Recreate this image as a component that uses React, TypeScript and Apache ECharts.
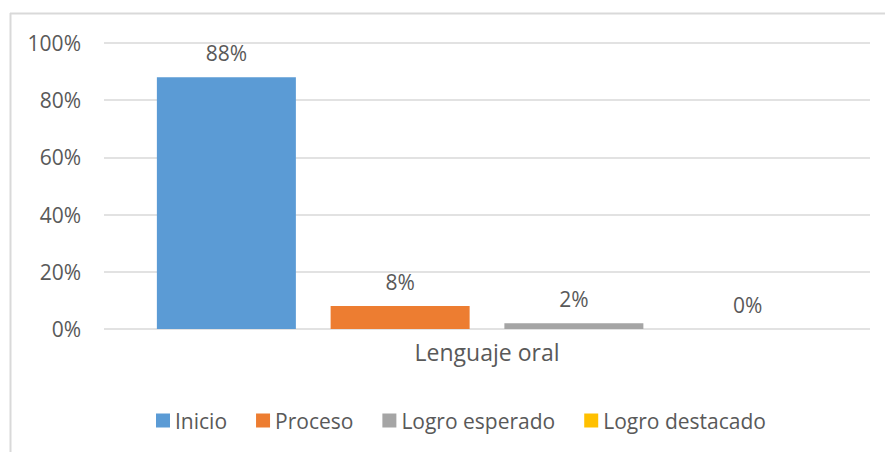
import React, { useEffect, useRef } from "react";
import * as echarts from "echarts";

const categories = ["Lenguaje oral"];
const seriesNames = ["Inicio", "Proceso", "Logro esperado", "Logro destacado"];
const seriesValues = [0.88, 0.08, 0.02, 0];
const seriesColors = ["#5B9BD5", "#ED7D31", "#A5A5A5", "#FFC000"];
const yTicks = { min: 0, max: 1, interval: 0.2 };

const FONT = "Open Sans";
const TEXT = "#595959";

export default function App() {
  const ref = useRef<HTMLDivElement>(null);
  useEffect(() => {
    document.body.style.margin = "0";
    const chart = echarts.init(ref.current!, null, { renderer: "svg" });
    chart.setOption({
      animation: false,
      backgroundColor: "#ffffff",
      textStyle: { fontFamily: FONT, color: TEXT },
      grid: { left: 104, right: 15, top: 43, bottom: 123 },
      xAxis: {
        type: "category",
        data: categories,
        axisLine: { show: false },
        axisTick: { show: false },
        axisLabel: { fontSize: 23, color: TEXT, margin: 11, fontFamily: FONT },
      },
      yAxis: {
        type: "value",
        min: yTicks.min,
        max: yTicks.max,
        interval: yTicks.interval,
        axisLine: { show: false },
        axisTick: { show: false },
        splitLine: { lineStyle: { color: "#D9D9D9", width: 1.5 } },
        axisLabel: {
          fontSize: 21,
          color: TEXT,
          margin: 23,
          fontFamily: FONT,
          formatter: (v: number) => Math.round(v * 100) + "%",
        },
      },
      legend: {
        left: 151,
        top: 405,
        itemWidth: 14,
        itemHeight: 14,
        itemGap: 29,
        icon: "rect",
        textStyle: { fontSize: 21, color: TEXT, fontFamily: FONT, padding: [0, 0, 0, 0] },
        data: seriesNames,
      },
      graphic: [
        { type: "line", shape: { x1: 10, y1: 13.5, x2: 885, y2: 13.5 }, style: { stroke: "#D9D9D9", lineWidth: 2 } },
        { type: "line", shape: { x1: 10.5, y1: 13, x2: 10.5, y2: 452 }, style: { stroke: "#D9D9D9", lineWidth: 2 } },
      ],
      series: seriesNames.map((name, i) => ({
        name,
        type: "bar",
        data: [seriesValues[i]],
        barWidth: 139,
        barGap: "25%",
        itemStyle: { color: seriesColors[i] },
        label: {
          show: true,
          position: "top",
          distance: 14,
          fontSize: 21,
          lineHeight: 21,
          color: TEXT,
          fontFamily: FONT,
          formatter: (p: any) => Math.round(p.value * 100) + "%",
        },
      })),
    });
    return () => chart.dispose();
  }, []);
  return <div ref={ref} style={{ width: 885, height: 452 }} />;
}
